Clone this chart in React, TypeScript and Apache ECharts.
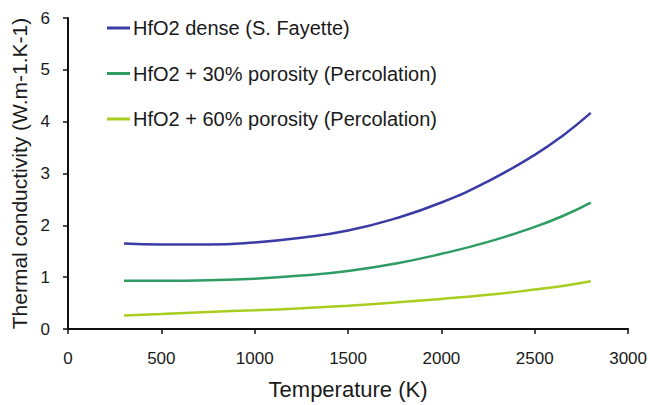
import React, { useEffect, useRef } from "react";
import * as echarts from "echarts";

const temps = [300, 500, 750, 1000, 1250, 1500, 1750, 2000, 2250, 2500, 2650, 2800];
const dense = [1.65, 1.63, 1.63, 1.67, 1.76, 1.9, 2.13, 2.44, 2.85, 3.36, 3.73, 4.17];
const por30 = [0.93, 0.93, 0.94, 0.97, 1.03, 1.12, 1.26, 1.45, 1.68, 1.97, 2.18, 2.44];
const por60 = [0.26, 0.29, 0.33, 0.36, 0.4, 0.45, 0.51, 0.58, 0.66, 0.76, 0.83, 0.92];
const seriesNames = [
  "HfO2 dense (S. Fayette)",
  "HfO2 + 30% porosity (Percolation)",
  "HfO2 + 60% porosity (Percolation)",
];
const colors = ["#3b3ba6", "#2f9d63", "#a9cd1f"];

export default function App() {
  const ref = useRef<HTMLDivElement>(null);
  useEffect(() => {
    if (!ref.current) return;
    const chart = echarts.init(ref.current, undefined, { renderer: "svg" });
    const font = "Liberation Sans, Arial, sans-serif";
    const mk = (name: string, vals: number[], color: string) => ({
      name,
      type: "line",
      smooth: true,
      showSymbol: false,
      symbol: "none",
      data: temps.map((t, i) => [t, vals[i]]),
      lineStyle: { color, width: 2.5 },
      itemStyle: { color },
    });
    chart.setOption({
      animation: false,
      backgroundColor: "#ffffff",
      grid: { left: 68, right: 20, top: 18, bottom: 72, containLabel: false },
      legend: {
        orient: "vertical",
        left: 102,
        top: 11,
        itemWidth: 23,
        itemHeight: 3,
        itemGap: 21.5,
        icon: "rect",
        data: seriesNames,
        textStyle: { fontFamily: font, fontSize: 20, color: "#1a1a1a", lineHeight: 24, padding: [0, 0, 0, -2] },
      },
      xAxis: {
        type: "value",
        min: 0,
        max: 3000,
        interval: 500,
        name: "Temperature (K)",
        nameLocation: "middle",
        nameGap: 49,
        nameTextStyle: { fontFamily: font, fontSize: 22, color: "#1a1a1a" },
        axisLine: { show: true, lineStyle: { color: "#111", width: 2 } },
        axisTick: { show: true, length: 5, lineStyle: { color: "#111", width: 1.5 } },
        axisLabel: { fontFamily: font, fontSize: 17, color: "#1a1a1a", margin: 21, formatter: (v: number) => String(v) },
        splitLine: { show: false },
      },
      yAxis: {
        type: "value",
        min: 0,
        max: 6,
        interval: 1,
        name: "Thermal conductivity (W.m-1.K-1)",
        nameLocation: "middle",
        nameGap: 35,
        nameTextStyle: { fontFamily: font, fontSize: 21, color: "#1a1a1a" },
        axisLine: { show: true, lineStyle: { color: "#111", width: 2 } },
        axisTick: { show: true, length: 5, lineStyle: { color: "#111", width: 1.5 } },
        axisLabel: { fontFamily: font, fontSize: 17, color: "#1a1a1a", margin: 18 },
        splitLine: { show: false },
      },
      series: [
        mk(seriesNames[0], dense, colors[0]),
        mk(seriesNames[1], por30, colors[1]),
        mk(seriesNames[2], por60, colors[2]),
      ],
    });
    return () => chart.dispose();
  }, []);
  return <div ref={ref} style={{ width: 650, height: 405, position: "absolute", left: 0, top: 0 }} />;
}
